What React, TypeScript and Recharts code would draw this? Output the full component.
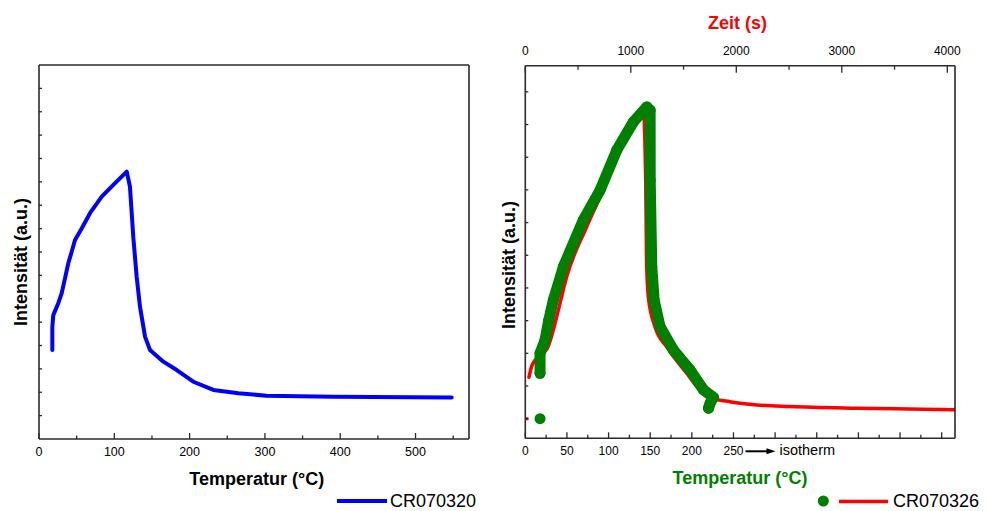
import React from "react";
import {
  ComposedChart,
  Line,
  Scatter,
  XAxis,
  YAxis,
  ZAxis,
} from "recharts";

const FONT = "'Liberation Sans', Arial, Helvetica, sans-serif";
const AXIS = "#2b2b2b";
const BLUE = "#0000ff";
const RED = "#ff0000";
const GREEN = "#008000";

// ---- left chart: CR070320, intensity vs temperature ----
const leftTemp = [17.7, 17.7, 19, 25.6, 30.1, 34.5, 38.9, 43.4, 47.8, 56.7, 67.7, 83.3, 98.7, 116.5, 120.8, 125.2, 129.7, 134.1, 140.8, 147.4, 165.1, 182.9, 204.9, 231.5, 264.7, 302, 391, 548];
const leftIntensity = [3.81, 4.8, 5.3, 5.81, 6.23, 6.87, 7.52, 8.01, 8.51, 9.01, 9.66, 10.37, 10.87, 11.44, 10.79, 8.65, 6.94, 5.66, 4.38, 3.81, 3.31, 2.95, 2.45, 2.1, 1.96, 1.85, 1.81, 1.78];
const leftXTicks = [0, 50, 100, 150, 200, 250, 300, 350, 400, 450, 500, 550];
const leftYTicks = [1, 2, 3, 4, 5, 6, 7, 8, 9, 10, 11, 12, 13, 14, 15];

// ---- right chart: CR070326 ----
// red line: intensity vs time (top axis)
const redTime = [35, 60, 92, 150, 203, 265, 313, 392, 582, 708, 866, 1024, 1118, 1141, 1150, 1166, 1229, 1340, 1530, 1656, 1782, 1940, 2193, 2509, 3141, 3773, 4073];
const redIntensity = [1.87, 2.2, 2.39, 2.6, 2.72, 3.31, 3.92, 4.94, 6.47, 7.39, 8.72, 9.63, 10.09, 7.9, 5.35, 4.33, 3.41, 2.8, 1.99, 1.48, 1.22, 1.12, 1.02, 0.97, 0.92, 0.89, 0.87];
const redStartTime = [0, 30];
const redStartIntensity = [0.6, 0.6];
// green points: intensity vs temperature (bottom axis)
const greenTemp = [17.7, 17.7, 23.7, 28, 33.7, 45.7, 69.7, 89.8, 109.9, 129.8, 145.9, 149.9, 150, 151.9, 154.7, 161.9, 177.9, 198, 214, 226, 222, 220];
const greenIntensity = [1.99, 2.6, 3.0, 3.6, 4.23, 5.25, 6.68, 7.59, 8.82, 9.68, 10.14, 10.04, 7.9, 5.25, 4.23, 3.41, 2.7, 2.09, 1.48, 1.25, 1.08, 0.92];
const greenLoneTemp = [17.7];
const greenLoneIntensity = [0.6];
const rightTempTicks = [0, 25, 50, 75, 100, 125, 150, 175, 200, 225, 250, 275, 300, 325, 350, 375, 400, 425, 450, 475, 500];
const rightTimeTicks = [0, 500, 1000, 1500, 2000, 2500, 3000, 3500, 4000];
const rightYTicks = [0.6, 1.6, 2.6, 3.6, 4.6, 5.6, 6.6, 7.6, 8.6, 9.6, 10.6];

const leftData = leftTemp.map((T, i) => ({ T, v: leftIntensity[i] }));
const redData = redTime.map((t, i) => ({ t, v: redIntensity[i] }));
const redStart = redStartTime.map((t, i) => ({ t, v: redStartIntensity[i] }));
const greenData = greenTemp.map((T, i) => ({ T, v: greenIntensity[i] }));
const greenLone = greenLoneTemp.map((T, i) => ({ T, v: greenLoneIntensity[i] }));

const BOTTOM_GAP = 17;
const TOP_GAP = 10.5;

const bottomTick =
  (majorEvery: number, maxLabel: number, fontSize: number, isotherm = false) =>
  (props: any) => {
    const { x, y, payload } = props;
    const v = payload.value;
    const major = v % majorEvery === 0;
    const axisY = y - BOTTOM_GAP;
    return (
      <g>
        <line x1={x} x2={x} y1={axisY} y2={axisY - (major ? 6 : 3.5)} stroke={AXIS} strokeWidth={1.3} />
        {major && v <= maxLabel && (
          <text x={x} y={y} textAnchor="middle" fontSize={fontSize} fontFamily={FONT} fill="#000">
            {v}
          </text>
        )}
        {isotherm && v === 250 && (
          <g>
            <line x1={x + 12} x2={x + 36} y1={y - 4} y2={y - 4} stroke="#000" strokeWidth={2} />
            <polygon points={`${x + 42},${y - 4} ${x + 33},${y - 7} ${x + 33},${y - 1}`} fill="#000" />
            <text x={x + 46} y={y} fontSize={14.5} fontFamily={FONT} fill="#000">
              isotherm
            </text>
          </g>
        )}
      </g>
    );
  };

const topTick = (props: any) => {
  const { x, y, payload } = props;
  const v = payload.value;
  const major = v % 1000 === 0;
  const axisY = y + TOP_GAP;
  return (
    <g>
      <line x1={x} x2={x} y1={axisY} y2={axisY + (major ? 7 : 4)} stroke={AXIS} strokeWidth={1.3} />
      {major && (
        <text x={x} y={y} textAnchor="middle" fontSize={12} fontFamily={FONT} fill="#000">
          {v}
        </text>
      )}
    </g>
  );
};

const leftYTick = (props: any) => {
  const { x, y } = props;
  return <line x1={x} x2={x + 3} y1={y} y2={y} stroke={AXIS} strokeWidth={1.3} />;
};

const rightYTick = (props: any) => {
  const { x, y } = props;
  return <line x1={x} x2={x - 3} y1={y} y2={y} stroke={AXIS} strokeWidth={1.3} />;
};

const axisLine = { stroke: AXIS, strokeWidth: 1.6 };

const LeftChart = () => (
  <ComposedChart
    width={490}
    height={511}
    margin={{ top: 64, right: 20, bottom: 71, left: 38 }}
    data={leftData}
  >
    <XAxis
      xAxisId="b"
      dataKey="T"
      type="number"
      domain={[0, 571]}
      ticks={leftXTicks}
      height={1}
      tickSize={0}
      tickMargin={BOTTOM_GAP}
      tickLine={false}
      axisLine={axisLine}
      tick={bottomTick(100, 500, 12.5)}
      interval={0}
    />
    <XAxis xAxisId="t" orientation="top" type="number" domain={[0, 1]} height={1} tick={false} tickLine={false} axisLine={axisLine} />
    <YAxis
      yAxisId="l"
      type="number"
      domain={[0, 16]}
      ticks={leftYTicks}
      width={1}
      tickSize={0}
      tickMargin={0}
      tickLine={false}
      axisLine={axisLine}
      tick={leftYTick}
      interval={0}
    />
    <YAxis yAxisId="r" orientation="right" type="number" domain={[0, 1]} width={1} tick={false} tickLine={false} axisLine={axisLine} />
    <Line
      xAxisId="b"
      yAxisId="l"
      dataKey="v"
      type="linear"
      stroke={BLUE}
      strokeWidth={4}
      strokeLinejoin="round"
      strokeLinecap="round"
      dot={false}
      isAnimationActive={false}
    />
  </ComposedChart>
);

const RightChart = () => (
  <ComposedChart width={498} height={511} margin={{ top: 64.7, right: 32, bottom: 71.7, left: 34.3 }}>
    <XAxis
      xAxisId="temp"
      dataKey="T"
      type="number"
      domain={[0, 516]}
      ticks={rightTempTicks}
      height={1}
      tickSize={0}
      tickMargin={BOTTOM_GAP}
      tickLine={false}
      axisLine={axisLine}
      tick={bottomTick(50, 250, 12, true)}
      interval={0}
      allowDataOverflow
    />
    <XAxis
      xAxisId="time"
      dataKey="t"
      orientation="top"
      type="number"
      domain={[0, 4073]}
      ticks={rightTimeTicks}
      height={1}
      tickSize={0}
      tickMargin={TOP_GAP}
      tickLine={false}
      axisLine={axisLine}
      tick={topTick}
      interval={0}
      allowDataOverflow
    />
    <YAxis
      yAxisId="l"
      type="number"
      domain={[0, 11.4]}
      ticks={rightYTicks}
      width={1}
      tickSize={0}
      tickMargin={0}
      tickLine={false}
      axisLine={axisLine}
      tick={leftYTick}
      interval={0}
      allowDataOverflow
    />
    <YAxis
      yAxisId="r"
      orientation="right"
      type="number"
      domain={[0, 11.4]}
      ticks={rightYTicks}
      width={1}
      tickSize={0}
      tickMargin={0}
      tickLine={false}
      axisLine={axisLine}
      tick={rightYTick}
      interval={0}
    />
    <ZAxis type="number" range={[95, 95]} />
    <Scatter
      xAxisId="temp"
      yAxisId="l"
      data={greenData}
      dataKey="v"
      fill={GREEN}
      line={{ stroke: GREEN, strokeWidth: 11, strokeLinejoin: "round", strokeLinecap: "round" }}
      lineJointType="linear"
      shape="circle"
      isAnimationActive={false}
    />
    <Scatter xAxisId="temp" yAxisId="l" data={greenLone} dataKey="v" fill={GREEN} shape="circle" isAnimationActive={false} />
    <Line
      xAxisId="time"
      yAxisId="l"
      data={redStart}
      dataKey="v"
      type="linear"
      stroke={RED}
      strokeWidth={3}
      dot={false}
      isAnimationActive={false}
    />
    <Line
      xAxisId="time"
      yAxisId="l"
      data={redData}
      dataKey="v"
      type="monotone"
      stroke={RED}
      strokeWidth={3.5}
      strokeLinejoin="round"
      strokeLinecap="round"
      dot={false}
      isAnimationActive={false}
    />
  </ComposedChart>
);

const Overlay = () => (
  <svg width={988} height={511} style={{ position: "absolute", left: 0, top: 0, pointerEvents: "none" }}>
    <g fontFamily={FONT} fontWeight="bold" fontSize={18}>
      <text x={21} y={262} transform="rotate(-90 21 262)" textAnchor="middle" dominantBaseline="central" fill="#000">
        Intensität (a.u.)
      </text>
      <text x={256.7} y={479} textAnchor="middle" dominantBaseline="central" fill="#000">
        Temperatur (°C)
      </text>
      <text x={509} y={265} transform="rotate(-90 509 265)" textAnchor="middle" dominantBaseline="central" fill="#000">
        Intensität (a.u.)
      </text>
      <text x={740} y={478} textAnchor="middle" dominantBaseline="central" fill={GREEN}>
        Temperatur (°C)
      </text>
      <text x={737.5} y={23} textAnchor="middle" dominantBaseline="central" fill={RED}>
        Zeit (s)
      </text>
    </g>
    {/* legends */}
    <line x1={337} x2={387} y1={501} y2={501} stroke={BLUE} strokeWidth={4} />
    <text x={390} y={501} dominantBaseline="central" fontFamily={FONT} fontSize={18} fill="#000">
      CR070320
    </text>
    <circle cx={823.3} cy={501} r={5.5} fill={GREEN} />
    <line x1={839} x2={888} y1={501.5} y2={501.5} stroke={RED} strokeWidth={3.5} />
    <text x={893} y={501} dominantBaseline="central" fontFamily={FONT} fontSize={18} fill="#000">
      CR070326
    </text>
  </svg>
);

export default function App() {
  return (
    <div
      style={{
        position: "absolute",
        left: 0,
        top: 0,
        width: 988,
        height: 511,
        background: "#fff",
        fontFamily: FONT,
      }}
    >
      <div style={{ position: "absolute", left: 0, top: 0 }}>
        <LeftChart />
      </div>
      <div style={{ position: "absolute", left: 490, top: 0 }}>
        <RightChart />
      </div>
      <Overlay />
    </div>
  );
}
